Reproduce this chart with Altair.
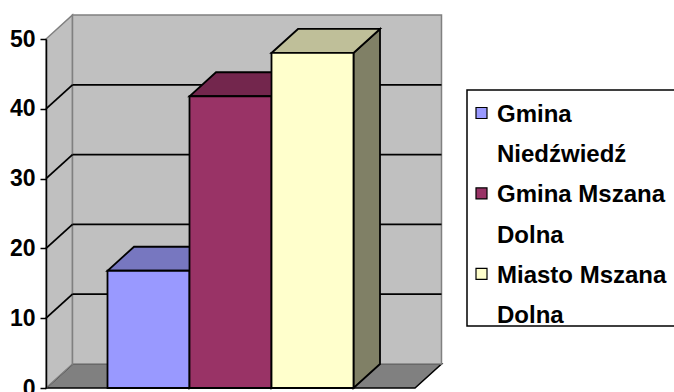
import altair as alt
import pandas as pd

# ---- data ----
SERIES = ["Gmina Niedźwiedź", "Gmina Mszana Dolna", "Miasto Mszana Dolna"]
LEGEND_LINES = [["Gmina", "Niedźwiedź"], ["Gmina Mszana", "Dolna"], ["Miasto Mszana", "Dolna"]]
VALUES = [16.8, 41.8, 48.0]
Y_TICKS = [0, 10, 20, 30, 40, 50]
FRONT = ["#9999FF", "#993366", "#FFFFCC"]
TOP = ["#7777C0", "#73264D", "#BFBF99"]
SIDE = ["#7373BF", "#4D1933", "#808066"]

# ---- geometry / style ----
W, H = 628, 349
PAD_L, PAD_T, PAD_B = 46, 39, 4
PX_X = 82.0                 # pixels per bar width
YMAX = 50
PX_Y = H / YMAX
DX = 26.5 / PX_X            # depth offset (x, in bar widths)
DY = 24.0 / PX_Y            # depth offset (y, in value units)
GAP = 0.75
FLOOR_W = 4.5
FONT = "Liberation Sans"
WALL = "#C0C0C0"
EDGE = "#808080"
FLOOR = "#808080"

xs = alt.Scale(domain=[0, W / PX_X], nice=False, zero=False)
ys = alt.Scale(domain=[0, YMAX], nice=False, zero=False)
YAX = alt.Axis(values=Y_TICKS, title=None, grid=False, domainColor="black",
               domainWidth=1.5, tickColor="black", tickWidth=1.5, tickSize=6,
               labelPadding=5, labelFont=FONT, labelFontSize=23,
               labelFontWeight="bold", labelColor="black", zindex=1)


def X(f="x"):
    return alt.X(f"{f}:Q", scale=xs, axis=None)


def Y(f="y"):
    return alt.Y(f"{f}:Q", scale=ys, axis=YAX)


def px_x(p):
    return (p - PAD_L) / PX_X


def px_y(p):
    return (PAD_T + H - p) / PX_Y


def vpar(rows, fill, stroke, sw):
    # parallelogram with vertical edges
    return alt.Chart(pd.DataFrame(rows)).mark_area(
        orient="vertical", fill=fill, stroke=stroke, strokeWidth=sw,
        strokeJoin="miter", opacity=1, fillOpacity=1
    ).encode(x=X("x"), y=Y("y"), y2="y2:Q")


def hpar(rows, fill, stroke, sw):
    # parallelogram with horizontal edges
    return alt.Chart(pd.DataFrame(rows)).mark_area(
        orient="horizontal", fill=fill, stroke=stroke, strokeWidth=sw,
        strokeJoin="miter", opacity=1, fillOpacity=1
    ).encode(y=Y("y"), x=X("x"), x2="x2:Q")


layers = []

# floor
layers.append(hpar([{"y": 0, "x": 0, "x2": FLOOR_W},
                    {"y": DY, "x": DX, "x2": FLOOR_W + DX}], FLOOR, "black", 1.5))
# left wall
layers.append(vpar([{"x": 0, "y": 0, "y2": YMAX},
                    {"x": DX, "y": DY, "y2": YMAX + DY}], WALL, EDGE, 1.5))
# back wall
layers.append(alt.Chart(pd.DataFrame([{"x": DX, "x2": FLOOR_W + DX, "y": DY, "y2": YMAX + DY}]))
              .mark_rect(fill=WALL, stroke=EDGE, strokeWidth=1.5)
              .encode(x=X("x"), x2="x2:Q", y=Y("y"), y2="y2:Q"))

grid_vals = [t for t in Y_TICKS if 0 < t < YMAX]
# gridlines on back wall
layers.append(alt.Chart(pd.DataFrame({"v": [t + DY for t in grid_vals],
                                      "x": DX, "x2": FLOOR_W + DX}))
              .mark_rule(color="black", strokeWidth=1.8)
              .encode(x=X("x"), x2="x2:Q", y=Y("v")))
# gridlines on side wall
layers.append(alt.Chart(pd.DataFrame({"y": grid_vals, "y2": [t + DY for t in grid_vals],
                                      "x": 0.0, "x2": DX}))
              .mark_rule(color="black", strokeWidth=1.8)
              .encode(x=X("x"), x2="x2:Q", y=Y("y"), y2="y2:Q"))

# bars
for i, v in enumerate(VALUES):
    x0 = GAP + i
    x1 = x0 + 1
    layers.append(vpar([{"x": x1, "y": 0, "y2": v},
                        {"x": x1 + DX, "y": DY, "y2": v + DY}], SIDE[i], "black", 1.8))
    layers.append(hpar([{"y": v, "x": x0, "x2": x1},
                        {"y": v + DY, "x": x0 + DX, "x2": x1 + DX}], TOP[i], "black", 1.8))
    layers.append(alt.Chart(pd.DataFrame([{"s": SERIES[i], "x": x0, "x2": x1, "y": 0, "y2": v}]))
                  .mark_rect(fill=FRONT[i], stroke="black", strokeWidth=1.8)
                  .encode(x=X("x"), x2="x2:Q", y=Y("y"), y2="y2:Q"))

# legend box
layers.append(alt.Chart(pd.DataFrame([{"x": px_x(467), "x2": px_x(690),
                                       "y": px_y(326), "y2": px_y(90)}]))
              .mark_rect(fill="white", stroke="black", strokeWidth=1.5)
              .encode(x=X("x"), x2="x2:Q", y=Y("y"), y2="y2:Q"))

LINE_H = 40.2
FIRST_BASE = 122
sym_rows, txt_rows = [], []
k = 0
for i, lines in enumerate(LEGEND_LINES):
    base = FIRST_BASE + k * LINE_H
    c = base - 9
    sym_rows.append({"s": SERIES[i], "c": FRONT[i],
                     "x": px_x(476), "x2": px_x(487),
                     "y": px_y(c + 5.5), "y2": px_y(c - 5.5)})
    for ln in lines:
        txt_rows.append({"t": ln, "x": px_x(497), "y": px_y(FIRST_BASE + k * LINE_H)})
        k += 1

layers.append(alt.Chart(pd.DataFrame(sym_rows))
              .mark_rect(stroke="black", strokeWidth=1.2)
              .encode(x=X("x"), x2="x2:Q", y=Y("y"), y2="y2:Q",
                      fill=alt.Fill("c:N", scale=None)))
layers.append(alt.Chart(pd.DataFrame(txt_rows))
              .mark_text(align="left", baseline="alphabetic", font=FONT,
                         fontSize=24, fontWeight="bold", color="black")
              .encode(x=X("x"), y=Y("y"), text="t:N"))

chart = alt.layer(*layers).properties(
    width=W, height=H,
    autosize=alt.AutoSizeParams(type="none"),
    padding={"left": PAD_L, "top": PAD_T, "right": 0, "bottom": PAD_B},
    background="white",
).configure_view(stroke=None)

chart.save("out.html", embed_options={"renderer": "svg", "actions": False})
